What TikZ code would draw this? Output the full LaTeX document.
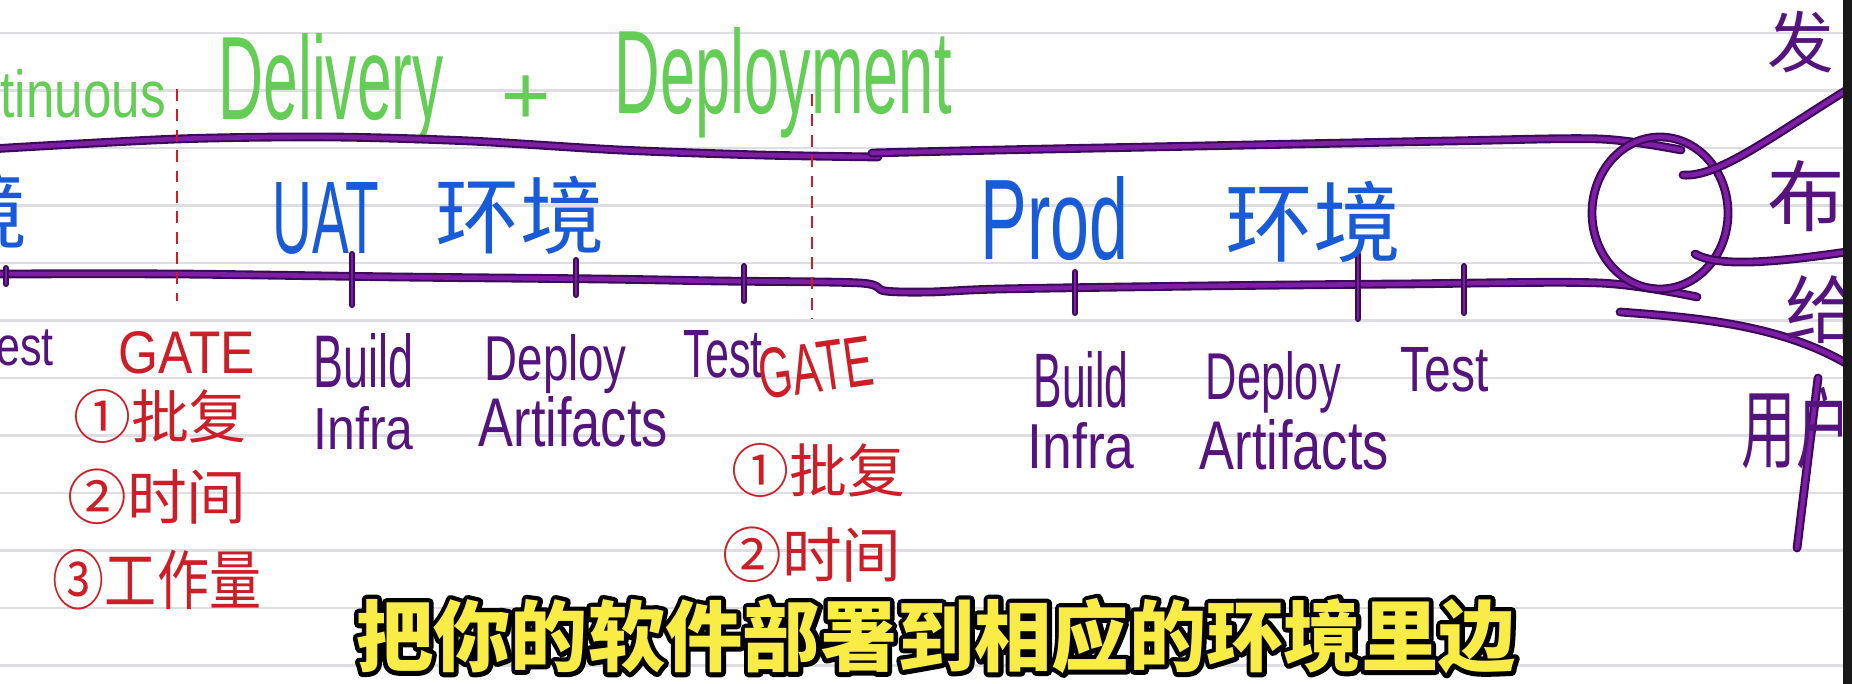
\documentclass[tikz,border=0pt]{standalone}
\usepackage{fontspec}
\usepackage{graphicx}
\newfontfamily\hand{Liberation Sans}
\newfontfamily\cjk{Noto Sans CJK SC}
\newlength\pxu \setlength\pxu{0.1mm}
\newcommand\fit[3]{\resizebox{#1\pxu}{#2\pxu}{#3}}
\definecolor{cgreen}{RGB}{100,205,85}
\definecolor{cblue}{RGB}{25,90,215}
\definecolor{cptext}{RGB}{85,20,125}
\definecolor{pipedark}{RGB}{60,10,90}
\definecolor{pipemain}{RGB}{125,30,165}
\definecolor{cred}{RGB}{205,30,40}
\definecolor{ruleg}{RGB}{222,222,226}
\definecolor{subyellow}{RGB}{250,236,70}
\definecolor{edgedark}{RGB}{25,25,25}
\newcommand\outlinedtext[1]{%
  \rlap{\color{black}\special{pdf:literal direct 1 Tr 2.6 w 1 j 0 0 0 RG}#1\special{pdf:literal direct 0 Tr}}%
  {\color{subyellow}#1}}
\tikzset{
  rule/.style={draw=ruleg, line width=0.6pt},
  pipe/.style={draw=pipedark, double=pipemain, double distance=1.3pt, line width=0.6pt, line cap=round},
  thinpipe/.style={draw=pipedark, double=pipemain, double distance=0.8pt, line width=0.45pt, line cap=round},
  hw/.style={inner sep=0pt, anchor=base west, font=\hand},
  gtxt/.style={hw, text=cgreen},
  btxt/.style={hw, text=cblue},
  ptxt/.style={hw, text=cptext},
  rtxt/.style={hw, text=cred},
  cjktxt/.style={inner sep=0pt, anchor=center},
  gateline/.style={draw=cred, line width=0.7pt, dash pattern=on 3.4pt off 2.4pt},
  subt/.style={inner sep=0pt, anchor=center, font=\cjk\bfseries\fontsize{22}{22}\selectfont}
}
\begin{document}
\begin{tikzpicture}[x=0.1mm, y=-0.1mm]
\useasboundingbox (0,0) rectangle (1852,684);
\begin{scope}
\clip (0,0) rectangle (1852,684);
\fill[white] (0,0) rectangle (1852,684);
\foreach \k in {0,...,11} \draw[rule] (0,33+57.5*\k) -- (1852,33+57.5*\k);

% ---- green heading
\node[gtxt] (cont) at (0,118) {\fit{165}{48}{tinuous}};
\node[gtxt] (deliv) at (218,120) {\fit{225}{86}{Delivery}};
\node[inner sep=0pt, text=cgreen, font=\hand\fontsize{24}{24}\selectfont] (plus) at (526,100) {+};
\node[gtxt] (deploy) at (614,114) {\fit{337}{86}{Deployment}};

% ---- pipe
\draw[pipe] plot[smooth, tension=0.5] coordinates {(-10,149) (177,139) (330,137) (470,141) (620,150) (760,155) (878,157)};
\draw[pipe] plot[smooth, tension=0.5] coordinates {(872,153) (1000,150) (1200,146) (1450,141) (1600,139) (1681,150)};
\draw[pipe] plot[smooth, tension=0.5] coordinates {(-10,274) (177,274) (400,277) (600,279) (720,281) (860,283) (885,291) (930,292) (1000,289) (1200,286) (1400,284) (1600,283) (1697,297)};
\draw[pipe] (1660,213) ellipse [x radius=68, y radius=76];
\draw[pipe] (1683,175) .. controls (1720,178) and (1780,130) .. (1860,82);
\draw[pipe] (1695,254) .. controls (1720,268) and (1780,262) .. (1860,250);
\draw[pipe] (1620,312) .. controls (1700,318) and (1790,325) .. (1860,372);
\draw[pipe] (1818,378) -- (1797,548);

% ---- ticks
\draw[thinpipe] (6,268) -- (6,284);
\draw[thinpipe] (352,254) -- (352,305);
\draw[thinpipe] (576,260) -- (576,295);
\draw[thinpipe] (744,266) -- (744,301);
\draw[thinpipe] (1075,272) -- (1075,313);
\draw[thinpipe] (1358,254) -- (1358,319);
\draw[thinpipe] (1464,266) -- (1464,313);

% ---- blue environment labels
\node[cjktxt, text=cblue, font=\cjk\fontsize{24}{24}\selectfont] (envl) at (-14,210) {境};
\node[btxt] (uat) at (272,254) {\fit{106}{71}{UAT}};
\node[cjktxt, text=cblue, font=\cjk\fontsize{24}{24}\selectfont] (uatenv) at (520,215) {环境};
\node[btxt] (prod) at (980,260) {\fit{148}{83}{Prod}};
\node[cjktxt, text=cblue, font=\cjk\fontsize{25}{25}\selectfont] (prodenv) at (1313,222) {环境};

% ---- purple step labels
\node[ptxt] (test0) at (-26,366) {\fit{79}{38}{Test}};
\node[ptxt] (build1) at (313,388) {\fit{100}{54}{Build}};
\node[ptxt] (infra1) at (313,449) {\fit{100}{43}{Infra}};
\node[ptxt] (deploy1) at (484,380) {\fit{142}{46}{Deploy}};
\node[ptxt] (artif1) at (478,446) {\fit{189}{50}{Artifacts}};
\node[ptxt] (test1) at (683,378) {\fit{79}{47}{Test}};
\node[ptxt] (build2) at (1033,408) {\fit{95}{56}{Build}};
\node[ptxt] (infra2) at (1027,469) {\fit{107}{46}{Infra}};
\node[ptxt] (deploy2) at (1205,399) {\fit{135}{48}{Deploy}};
\node[ptxt] (artif2) at (1199,469) {\fit{189}{50}{Artifacts}};
\node[ptxt] (test2) at (1400,392) {\fit{88}{44}{Test}};

% ---- right side
\node[cjktxt, text=cptext, font=\cjk\fontsize{19}{19}\selectfont] (fa) at (1801,42) {发};
\node[cjktxt, text=cptext, font=\cjk\fontsize{22}{22}\selectfont] (bu) at (1806,196) {布};
\node[cjktxt, text=cptext, font=\cjk\fontsize{21}{21}\selectfont] (gei) at (1822,310) {给};
\node[cjktxt, text=cptext, font=\cjk\fontsize{25}{25}\selectfont] (yonghu) at (1796,428) {\scalebox{0.62}[1]{用户}};

% ---- gates
\draw[gateline] (177,89) -- (177,301);
\draw[gateline] (812,94) -- (812,319);
\node[rtxt] (gate1) at (118,373) {\fit{136}{42}{GATE}};
\node[rtxt, rotate=8] (gate2) at (762,400) {\fit{114}{50}{GATE}};
\node[cjktxt, text=cred, font=\cjk\fontsize{16.5}{16.5}\selectfont] (g1a) at (160,416) {①批复};
\node[cjktxt, text=cred, font=\cjk\fontsize{17}{17}\selectfont] (g1b) at (157,497) {②时间};
\node[cjktxt, text=cred, font=\cjk\fontsize{18.5}{18.5}\selectfont] (g1c) at (157,580) {\scalebox{0.8}[1]{③工作量}};
\node[cjktxt, text=cred, font=\cjk\fontsize{16.5}{16.5}\selectfont] (g2a) at (818,470) {①批复};
\node[cjktxt, text=cred, font=\cjk\fontsize{17}{17}\selectfont] (g2b) at (812,555) {②时间};

% ---- subtitle
\node[subt] (sub) at (936,636) {\outlinedtext{把你的软件部署到相应的环境里边}};

% ---- right dark edge
\fill[edgedark] (1843,0) rectangle (1852,684);
\end{scope}
\end{tikzpicture}
\end{document}
